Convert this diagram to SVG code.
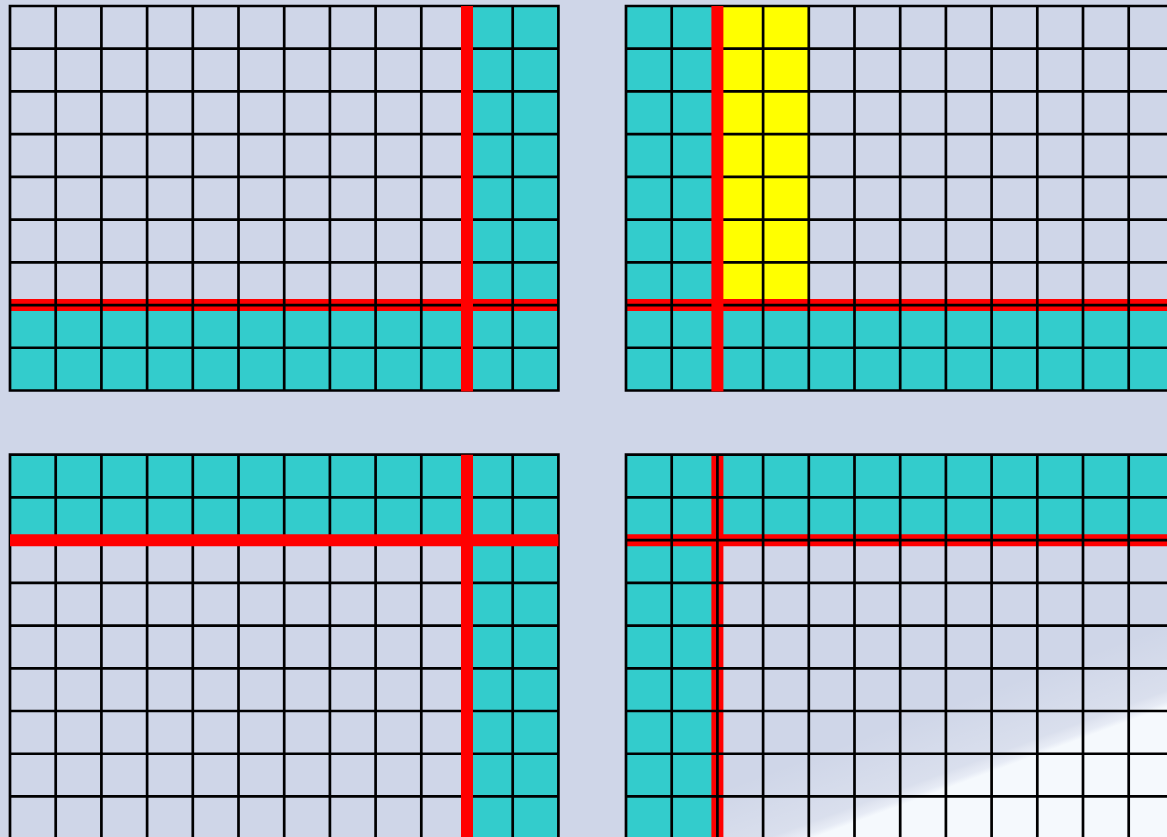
<svg xmlns="http://www.w3.org/2000/svg" width="1167" height="837" viewBox="0 0 1167 837">
<style>
.bg{fill:#CFD6E8}
.cy{fill:#33CCCC}
.ye{fill:#FFFF00}
.grid{fill:none;stroke:#000;stroke-width:2.7;stroke-linecap:square}
.red{stroke:#FF0000;stroke-width:12;fill:none}
</style>
<defs>
<linearGradient id="glow" gradientUnits="userSpaceOnUse" x1="975" y1="695" x2="1002" y2="768">
<stop offset="0" stop-color="#FFFFFF" stop-opacity="0"/>
<stop offset="0.8" stop-color="#FFFFFF" stop-opacity="0.22"/>
<stop offset="0.93" stop-color="#F6F9FE" stop-opacity="0.6"/>
<stop offset="1" stop-color="#F5F9FD" stop-opacity="1"/>
</linearGradient>
</defs>
<rect class="bg" x="0" y="0" width="1167" height="837"/>
<rect x="620" y="600" width="547" height="237" fill="url(#glow)"/>

<g id="grid-top-left">
<rect class="cy" x="467" y="6" width="91.4" height="384.48"/>
<rect class="cy" x="10" y="305.04" width="548.4" height="85.44"/>
<line class="red" x1="10" y1="305.04" x2="558.4" y2="305.04"/>
<path class="grid" d="M10,6H558.4V390.48H10Z M10,48.72H558.4 M10,91.44H558.4 M10,134.16H558.4 M10,176.88H558.4 M10,219.6H558.4 M10,262.32H558.4 M10,305.04H558.4 M10,347.76H558.4 M55.7,6V390.48 M101.4,6V390.48 M147.1,6V390.48 M192.8,6V390.48 M238.5,6V390.48 M284.2,6V390.48 M329.9,6V390.48 M375.6,6V390.48 M421.3,6V390.48 M512.7,6V390.48"/>
<line class="red" x1="467" y1="6" x2="467" y2="391.5"/>
</g>

<g id="grid-top-right">
<rect class="cy" x="626" y="6" width="91.4" height="384.48"/>
<rect class="cy" x="626" y="305.04" width="548.4" height="85.44"/>
<rect class="ye" x="717.4" y="6" width="91.4" height="299.04"/>
<line class="red" x1="626" y1="305.04" x2="1174.4" y2="305.04"/>
<path class="grid" d="M626,6H1174.4V390.48H626Z M626,48.72H1174.4 M626,91.44H1174.4 M626,134.16H1174.4 M626,176.88H1174.4 M626,219.6H1174.4 M626,262.32H1174.4 M626,305.04H1174.4 M626,347.76H1174.4 M671.7,6V390.48 M763.1,6V390.48 M808.8,6V390.48 M854.5,6V390.48 M900.2,6V390.48 M945.9,6V390.48 M991.6,6V390.48 M1037.3,6V390.48 M1083,6V390.48 M1128.7,6V390.48"/>
<line class="red" x1="717.4" y1="6" x2="717.4" y2="391.5"/>
</g>

<g id="grid-bottom-left">
<rect class="cy" x="10" y="454.7" width="548.4" height="85.44"/>
<rect class="cy" x="467" y="454.7" width="91.4" height="400"/>
<path class="grid" d="M10,860V454.7H558.4V860 M10,497.42H558.4 M10,540.14H558.4 M10,582.86H558.4 M10,625.58H558.4 M10,668.3H558.4 M10,711.02H558.4 M10,753.74H558.4 M10,796.46H558.4 M55.7,454.7V860 M101.4,454.7V860 M147.1,454.7V860 M192.8,454.7V860 M238.5,454.7V860 M284.2,454.7V860 M329.9,454.7V860 M375.6,454.7V860 M421.3,454.7V860 M512.7,454.7V860"/>
<line class="red" x1="10" y1="540.14" x2="558.4" y2="540.14"/>
<line class="red" x1="467" y1="454.7" x2="467" y2="860"/>
</g>

<g id="grid-bottom-right">
<rect class="cy" x="626" y="454.7" width="548.4" height="85.44"/>
<rect class="cy" x="626" y="454.7" width="91.4" height="400"/>
<line class="red" x1="626" y1="540.14" x2="1174.4" y2="540.14"/>
<line class="red" x1="717.4" y1="454.7" x2="717.4" y2="860"/>
<path class="grid" d="M626,860V454.7H1174.4 M626,497.42H1174.4 M626,540.14H1174.4 M626,582.86H1174.4 M626,625.58H1174.4 M626,668.3H1174.4 M626,711.02H1174.4 M626,753.74H1174.4 M626,796.46H1174.4 M671.7,454.7V860 M717.4,454.7V860 M763.1,454.7V860 M808.8,454.7V860 M854.5,454.7V860 M900.2,454.7V860 M945.9,454.7V860 M991.6,454.7V860 M1037.3,454.7V860 M1083,454.7V860 M1128.7,454.7V860"/>
</g>
</svg>
